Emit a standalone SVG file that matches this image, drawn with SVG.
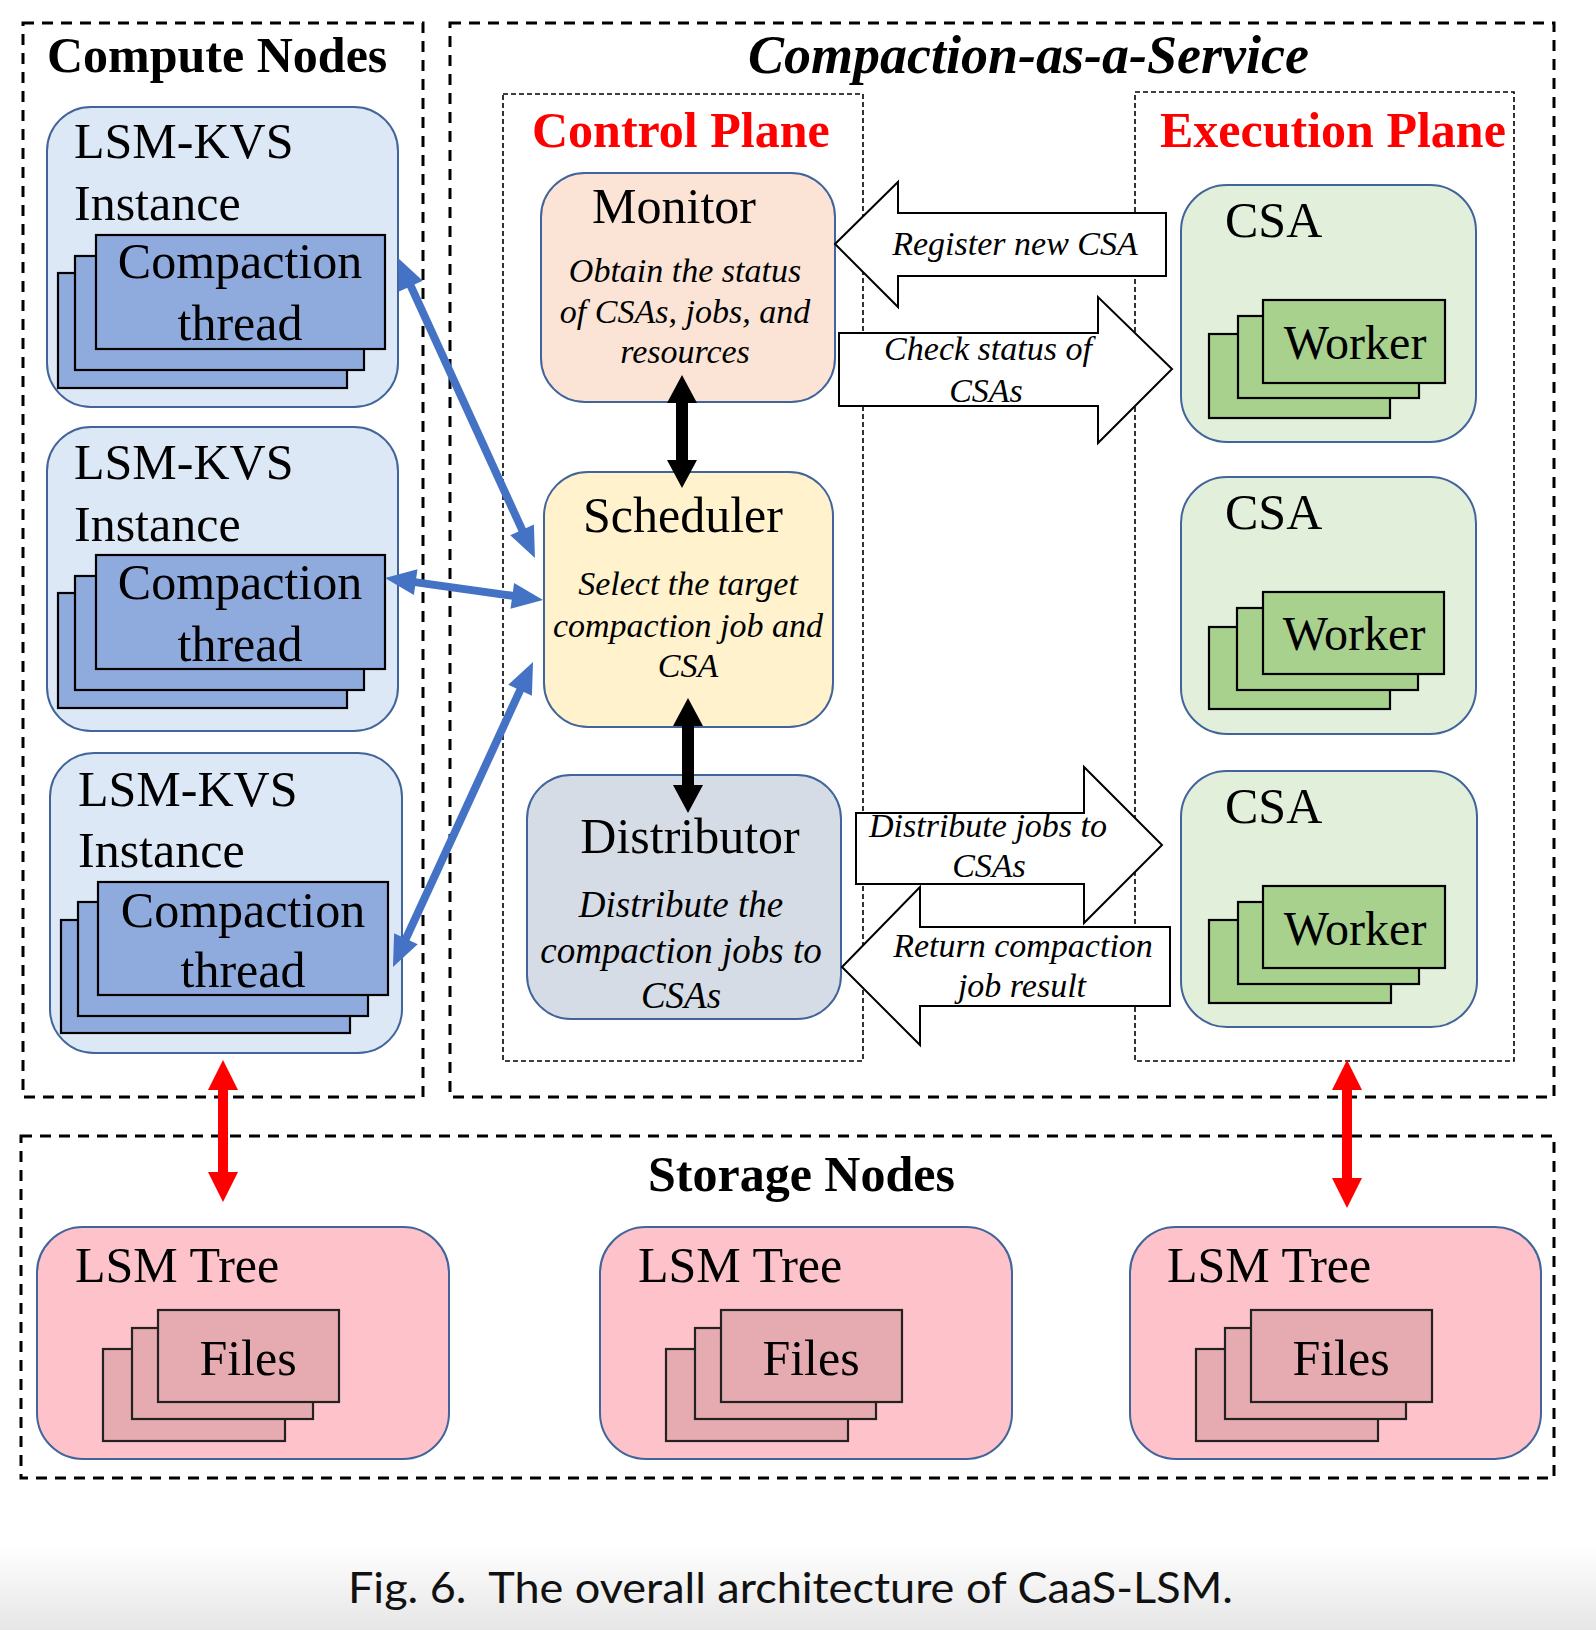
<svg xmlns="http://www.w3.org/2000/svg" width="1596" height="1630" viewBox="0 0 1596 1630">
<style>
text{font-family:"Liberation Serif","Times New Roman",serif;fill:#000}
.outer{fill:none;stroke:#000;stroke-width:3;stroke-dasharray:11 8}
.inner{fill:none;stroke:#000;stroke-width:1.6;stroke-dasharray:5 3}
.hdr{font-size:50px;font-weight:bold}
.red{fill:#f00}
.t50{font-size:50px}
.it{font-size:34px;font-style:italic}
.kvs{fill:#dce8f5;stroke:#41649b;stroke-width:2}
.thr{fill:#8faadc;stroke:#000;stroke-width:2.2}
.csa{fill:#e2efda;stroke:#41649b;stroke-width:2}
.wrk{fill:#a9d18e;stroke:#000;stroke-width:2.2}
.lsm{fill:#fec2ca;stroke:#41649b;stroke-width:2}
.fil{fill:#e6abb0;stroke:#222;stroke-width:2.2}
.blk{fill:#fff;stroke:#000;stroke-width:2}
.mid{text-anchor:middle}
.blue{fill:none;stroke:#4472c4;stroke-width:8}
</style>
<defs>
<linearGradient id="bg" x1="0" y1="0" x2="0" y2="1">
<stop offset="0" stop-color="#ffffff"/>
<stop offset="1" stop-color="#e6e6e6"/>
</linearGradient>
<marker id="bh" markerUnits="userSpaceOnUse" markerWidth="40" markerHeight="40" refX="0" refY="0" viewBox="-2 -20 40 40" orient="auto-start-reverse" overflow="visible">
<path d="M-1,-13 L30,0 L-1,13 z" fill="#4472c4"/>
</marker>
</defs>
<rect x="0" y="0" width="1596" height="1630" fill="#fff"/>
<rect x="0" y="1545" width="1596" height="85" fill="url(#bg)"/>

<g id="compute-nodes">
<rect class="outer" x="23" y="23" width="400" height="1074"/>
<text class="hdr" x="47" y="72">Compute Nodes</text>
</g>
<g id="caas">
<rect class="outer" x="450" y="23" width="1104" height="1074"/>
<text x="748" y="73" style="font-size:54px;font-weight:bold;font-style:italic">Compaction-as-a-Service</text>
</g>
<g id="control-plane">
<rect class="inner" x="503" y="94" width="360" height="967"/>
<text class="hdr red" x="532" y="147">Control Plane</text>
</g>
<g id="execution-plane">
<rect class="inner" x="1135" y="92" width="379" height="969"/>
<text class="hdr red" x="1160" y="147">Execution Plane</text>
</g>
<g id="storage-nodes">
<rect class="outer" x="21" y="1136" width="1533" height="342"/>
<text class="hdr" x="648" y="1191">Storage Nodes</text>
</g>

<g id="lsm-kvs-1">
<rect class="kvs" x="47" y="107" width="351" height="300" rx="44"/>
<text class="t50" x="74" y="158">LSM-KVS</text>
<text class="t50" x="74" y="220">Instance</text>
<rect class="thr" x="58" y="273" width="289" height="115"/>
<rect class="thr" x="75" y="256" width="289" height="114"/>
<rect class="thr" x="96" y="235" width="289" height="114"/>
<text class="t50 mid" x="240" y="278">Compaction</text>
<text class="t50 mid" x="240" y="340">thread</text>
</g>
<g id="lsm-kvs-2">
<rect class="kvs" x="47" y="427" width="351" height="304" rx="44"/>
<text class="t50" x="74" y="479">LSM-KVS</text>
<text class="t50" x="74" y="541">Instance</text>
<rect class="thr" x="58" y="593" width="289" height="115"/>
<rect class="thr" x="75" y="576" width="289" height="114"/>
<rect class="thr" x="96" y="555" width="289" height="114"/>
<text class="t50 mid" x="240" y="599">Compaction</text>
<text class="t50 mid" x="240" y="661">thread</text>
</g>
<g id="lsm-kvs-3">
<rect class="kvs" x="50" y="753" width="352" height="300" rx="44"/>
<text class="t50" x="78" y="806">LSM-KVS</text>
<text class="t50" x="78" y="867">Instance</text>
<rect class="thr" x="61" y="920" width="289" height="113"/>
<rect class="thr" x="78" y="902" width="290" height="114"/>
<rect class="thr" x="98" y="882" width="290" height="113"/>
<text class="t50 mid" x="243" y="927">Compaction</text>
<text class="t50 mid" x="243" y="987">thread</text>
</g>

<g id="monitor">
<rect x="541" y="173" width="294" height="229" rx="44" fill="#fbe4d6" stroke="#41649b" stroke-width="2"/>
<text class="t50 mid" x="674" y="223">Monitor</text>
<text class="it mid" x="685" y="282">Obtain the status</text>
<text class="it mid" x="685" y="323">of CSAs, jobs, and</text>
<text class="it mid" x="685" y="363">resources</text>
</g>
<g id="scheduler">
<rect x="544" y="472" width="289" height="255" rx="44" fill="#fff2cc" stroke="#41649b" stroke-width="2"/>
<text class="t50 mid" x="683" y="532">Scheduler</text>
<text class="it mid" x="688" y="595">Select the target</text>
<text class="it mid" x="688" y="637">compaction job and</text>
<text class="it mid" x="688" y="677">CSA</text>
</g>
<g id="distributor">
<rect x="527" y="775" width="314" height="244" rx="44" fill="#d6dce5" stroke="#41649b" stroke-width="2"/>
<text class="t50 mid" x="690" y="853">Distributor</text>
<text class="it mid" x="681" y="917" style="font-size:37px">Distribute the</text>
<text class="it mid" x="681" y="963" style="font-size:37px">compaction jobs to</text>
<text class="it mid" x="681" y="1008" style="font-size:37px">CSAs</text>
</g>

<g id="csa-1">
<rect class="csa" x="1181" y="185" width="295" height="257" rx="46"/>
<text class="t50" x="1225" y="237">CSA</text>
<rect class="wrk" x="1209" y="334" width="181" height="84"/>
<rect class="wrk" x="1238" y="316" width="181" height="82"/>
<rect class="wrk" x="1263" y="300" width="182" height="83"/>
<text class="mid" x="1355" y="359" style="font-size:48px">Worker</text>
</g>
<g id="csa-2">
<rect class="csa" x="1181" y="477" width="295" height="257" rx="46"/>
<text class="t50" x="1225" y="529">CSA</text>
<rect class="wrk" x="1209" y="627" width="181" height="82"/>
<rect class="wrk" x="1237" y="608" width="181" height="82"/>
<rect class="wrk" x="1263" y="592" width="181" height="82"/>
<text class="mid" x="1354" y="650" style="font-size:48px">Worker</text>
</g>
<g id="csa-3">
<rect class="csa" x="1181" y="771" width="296" height="256" rx="46"/>
<text class="t50" x="1225" y="823">CSA</text>
<rect class="wrk" x="1209" y="920" width="182" height="83"/>
<rect class="wrk" x="1238" y="902" width="181" height="82"/>
<rect class="wrk" x="1263" y="886" width="182" height="82"/>
<text class="mid" x="1355" y="945" style="font-size:48px">Worker</text>
</g>

<g id="lsm-tree-1">
<rect class="lsm" x="37" y="1227" width="412" height="232" rx="46"/>
<text class="t50" x="75" y="1282">LSM Tree</text>
<rect class="fil" x="103" y="1349" width="182" height="92"/>
<rect class="fil" x="132" y="1328" width="181" height="91"/>
<rect class="fil" x="158" y="1310" width="181" height="92"/>
<text class="t50 mid" x="248" y="1375">Files</text>
</g>
<g id="lsm-tree-2">
<rect class="lsm" x="600" y="1227" width="412" height="232" rx="46"/>
<text class="t50" x="638" y="1282">LSM Tree</text>
<rect class="fil" x="666" y="1349" width="182" height="92"/>
<rect class="fil" x="695" y="1328" width="181" height="91"/>
<rect class="fil" x="721" y="1310" width="181" height="92"/>
<text class="t50 mid" x="811" y="1375">Files</text>
</g>
<g id="lsm-tree-3">
<rect class="lsm" x="1130" y="1227" width="411" height="232" rx="46"/>
<text class="t50" x="1167" y="1282">LSM Tree</text>
<rect class="fil" x="1196" y="1349" width="182" height="92"/>
<rect class="fil" x="1225" y="1328" width="181" height="91"/>
<rect class="fil" x="1251" y="1310" width="181" height="92"/>
<text class="t50 mid" x="1341" y="1375">Files</text>
</g>

<g id="connectors">
<path class="blue" d="M410.5,285.3 L522.5,530.7" marker-start="url(#bh)" marker-end="url(#bh)"/>
<path class="blue" d="M414.7,582.1 L513.3,595.9" marker-start="url(#bh)" marker-end="url(#bh)"/>
<path class="blue" d="M405.5,939.7 L520.5,689.3" marker-start="url(#bh)" marker-end="url(#bh)"/>
<polygon fill="#000" points="682,375 697,403 688,403 688,460 697,460 682,488 667,460 676,460 676,403 667,403"/>
<polygon fill="#000" points="688,698 703,726 694,726 694,785 703,785 688,813 673,785 682,785 682,726 673,726"/>
<polygon fill="#f00" points="223,1060 238,1090 228,1090 228,1172 238,1172 223,1202 208,1172 218,1172 218,1090 208,1090"/>
<polygon fill="#f00" points="1347,1060 1362,1090 1352,1090 1352,1178 1362,1178 1347,1208 1332,1178 1342,1178 1342,1090 1332,1090"/>
<g id="arrow-register">
<polygon class="blk" points="835,244 898,182 898,213 1166,213 1166,276 898,276 898,307"/>
<text class="it mid" x="1015" y="255">Register new CSA</text>
</g>
<g id="arrow-check">
<polygon class="blk" points="839,333 1098,333 1098,297 1172,369 1098,443 1098,406 839,406"/>
<text class="it mid" x="988" y="360">Check status of</text>
<text class="it mid" x="986" y="402">CSAs</text>
</g>
<g id="arrow-distribute">
<polygon class="blk" points="856,813 1084,813 1084,767 1162,845 1084,923 1084,884 856,884"/>
<text class="it mid" x="988" y="837">Distribute jobs to</text>
<text class="it mid" x="989" y="877">CSAs</text>
</g>
<g id="arrow-return">
<polygon class="blk" points="842,967 920,887 920,927 1170,927 1170,1006 920,1006 920,1045"/>
<text class="it mid" x="1023" y="957">Return compaction</text>
<text class="it mid" x="1022" y="997">job result</text>
</g>
</g>

<text x="348" y="1603" textLength="885" lengthAdjust="spacingAndGlyphs" style="font-family:Lato,'Open Sans',sans-serif;font-size:42px;fill:#111">Fig. 6.&#160; The overall architecture of CaaS-LSM.</text>
</svg>
